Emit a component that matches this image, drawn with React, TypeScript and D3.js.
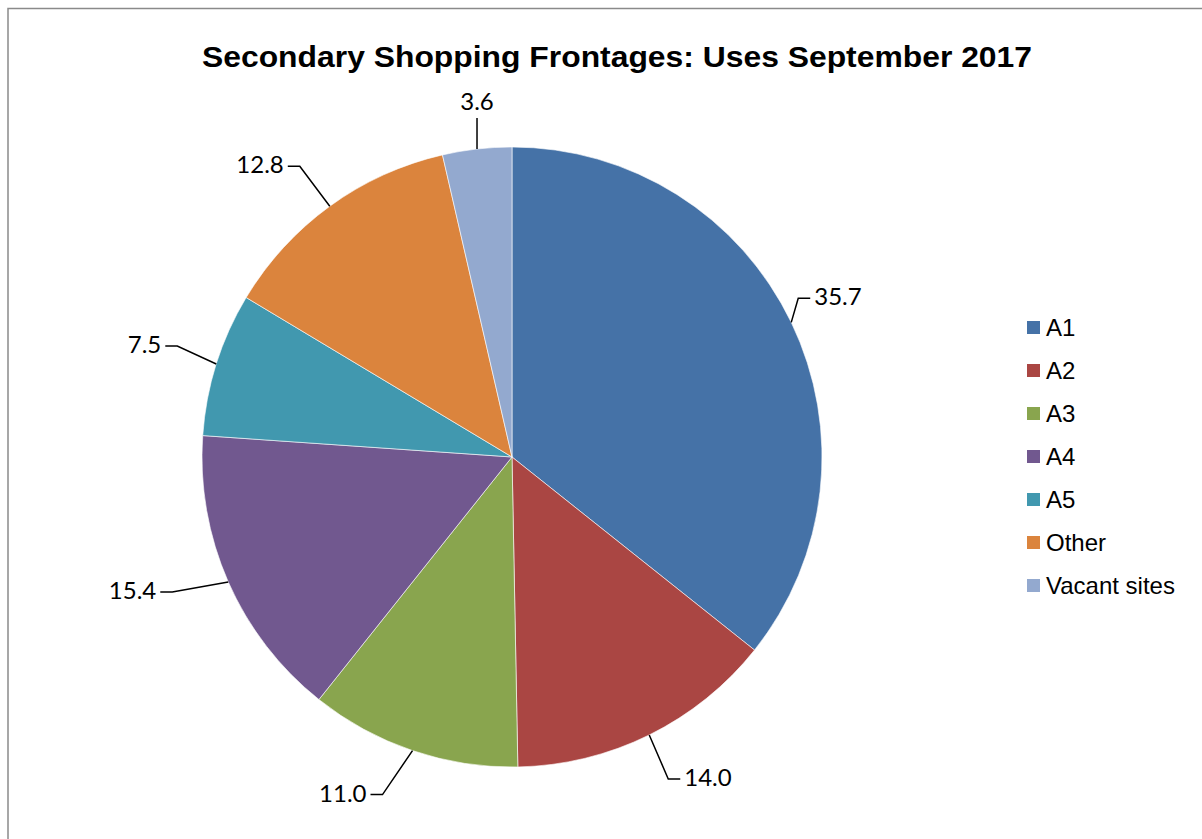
import React from "react";
import * as d3 from "d3";

const categories = ["A1", "A2", "A3", "A4", "A5", "Other", "Vacant sites"];
const values = [35.7, 14.0, 11.0, 15.4, 7.5, 12.8, 3.6];
const colors = ["#4572A7", "#AA4643", "#89A54E", "#71588F", "#4198AF", "#DB843D", "#93A9CF"];
const title = "Secondary Shopping Frontages: Uses September 2017";

// label layout: elbow offset from slice edge, horizontal leader direction (1 right, -1 left, 0 none)
const labelElbow: [number, number][] = [
  [7, -24], [19, 44], [-30, 44], [-56, 10], [-39, -18], [-30, -40], [0, -31],
];
const labelDir = [1, 1, -1, -1, -1, -1, 0];

const W = 1202;
const H = 839;
const cx = 512;
const cy = 457;
const R = 310;

export default function App() {
  const pie = d3.pie<number>().sort(null).value((d) => d);
  const arcs = pie(values);
  const arcGen = d3.arc<d3.PieArcDatum<number>>().innerRadius(0).outerRadius(R);
  const legendY = d3.scalePoint<string>().domain(categories).range([328, 586]);

  return (
    <svg width={W} height={H} style={{ position: "absolute", left: 0, top: 0, background: "#fff" }}>
      <rect x={8} y={8.5} width={W + 10} height={H + 10} fill="#fff" stroke="#8a8a8a" strokeWidth={1.5} />
      <text
        x={617}
        y={67}
        textAnchor="middle"
        fontFamily="Liberation Sans, Arial, sans-serif"
        fontWeight="bold"
        fontSize={29}
        textLength={830}
        lengthAdjust="spacingAndGlyphs"
      >
        {title}
      </text>
      <g transform={`translate(${cx},${cy})`}>
        {arcs.map((a, i) => (
          <path key={i} d={arcGen(a) as string} fill={colors[i]} stroke="#fff" strokeWidth={0.6} />
        ))}
      </g>
      {arcs.map((a, i) => {
        const mid = (a.startAngle + a.endAngle) / 2;
        const ex = cx + R * Math.sin(mid);
        const ey = cy - R * Math.cos(mid);
        const bx = ex + labelElbow[i][0];
        const by = ey + labelElbow[i][1];
        const dir = labelDir[i];
        const hx = bx + dir * 12;
        const txt = values[i].toFixed(1);
        let tx = hx + dir * 4;
        let ty = by + 7;
        let anchor: "start" | "end" | "middle" = dir > 0 ? "start" : "end";
        if (dir === 0) {
          tx = bx;
          ty = by - 8;
          anchor = "middle";
        }
        return (
          <g key={i}>
            <polyline
              points={`${ex},${ey} ${bx},${by} ${hx},${by}`}
              fill="none"
              stroke="#000"
              strokeWidth={1.5}
            />
            <text x={tx} y={ty} textAnchor={anchor} fontFamily="Lato, sans-serif" fontSize={24} fill="#000">
              {txt}
            </text>
          </g>
        );
      })}
      {categories.map((c, i) => {
        const y = legendY(c) as number;
        return (
          <g key={c}>
            <rect x={1027} y={y - 7} width={13} height={13} fill={colors[i]} />
            <text x={1046} y={y + 8} fontFamily="Liberation Sans, Arial, sans-serif" fontSize={24} fill="#000">
              {c}
            </text>
          </g>
        );
      })}
    </svg>
  );
}
